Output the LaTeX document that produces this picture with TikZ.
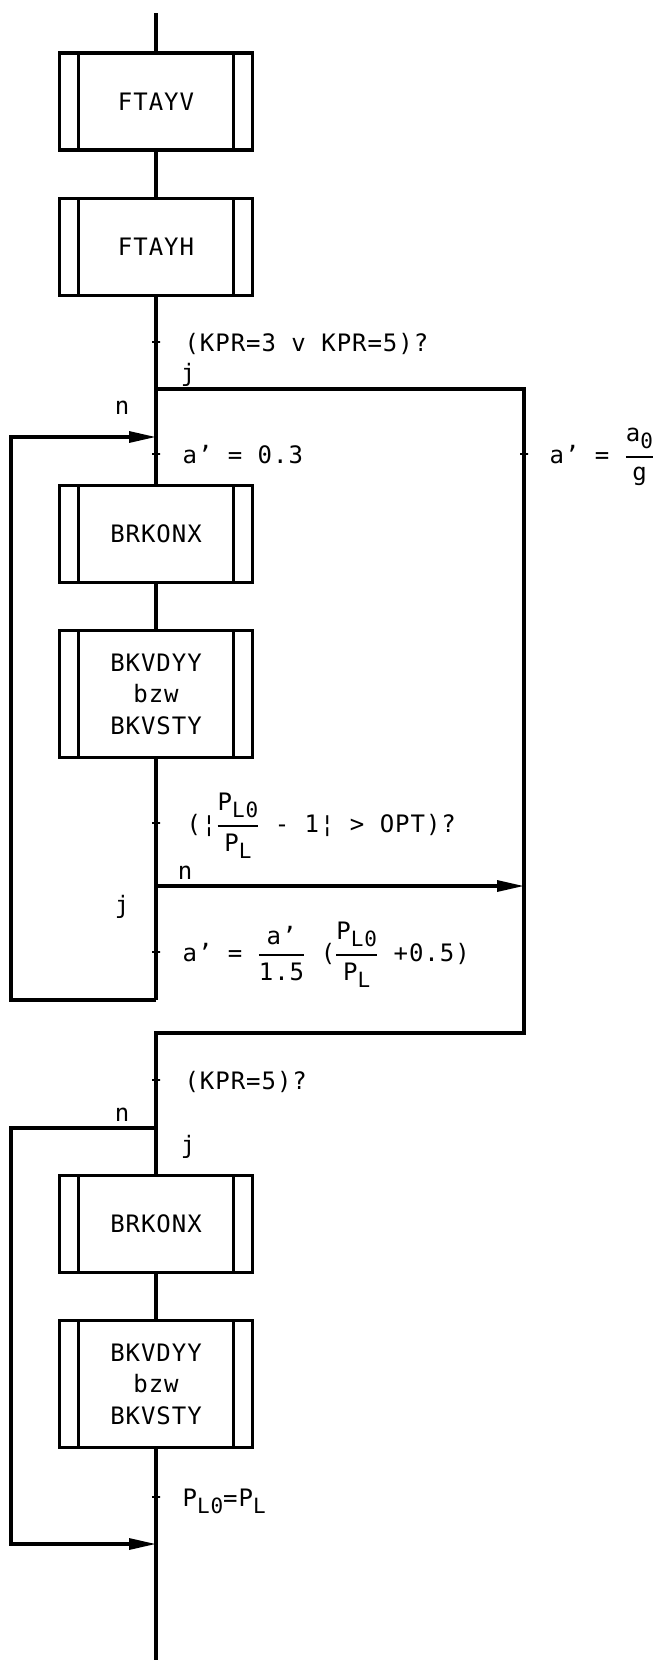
\documentclass[tikz,border=0pt]{standalone}
\usepackage{amsmath}
\usepackage{fontspec}
\usetikzlibrary{arrows.meta, positioning}
\newfontfamily\plotfont{DejaVu Sans Mono}[LetterSpace=4]
\newcommand{\lsub}[1]{\raisebox{-7pt}{\fontsize{21}{21}\selectfont #1}}
\newcommand{\pfr}[2]{$\genfrac{}{}{2.4pt}{0}{\text{#1}}{\text{#2}}$}

\begin{document}
\begin{tikzpicture}[x=1pt, y=1pt,
        line width=3.2pt,
        node distance=45pt,
        subr/.style={draw, minimum width=193pt, minimum height=97pt,
                inner sep=0pt, align=center,
                font=\plotfont\fontsize{24}{31.5}\selectfont,
                path picture={\draw
                    ([xshift=19pt]path picture bounding box.north west) --
                    ([xshift=19pt]path picture bounding box.south west)
                    ([xshift=-19pt]path picture bounding box.north east) --
                    ([xshift=-19pt]path picture bounding box.south east);}},
        tickmk/.style={draw, line width=2.4pt, minimum width=8pt,
                minimum height=0pt, inner sep=0pt, outer sep=0pt},
        lbl/.style={font=\plotfont\fontsize{24}{29}\selectfont,
                inner sep=0pt, anchor=base west},
        yn/.style={font=\plotfont\fontsize{24}{29}\selectfont, inner sep=0pt},
        arr/.style={-{Triangle[length=27pt, width=11pt]}}]
    \useasboundingbox (0,0) rectangle (661,-1660);

    % main column
    \coordinate (top) at (156,-13);
    \node[subr] (ftayv) at (156,-101.5) {FTAYV};
    \node[subr, below=of ftayv] (ftayh) {FTAYH};
    \coordinate (jsplit) at (156,-389);
    \coordinate (jright) at (524,-389);
    \coordinate (loopin) at (156,-437);
    \node[subr] (brkonx) at (156,-534) {BRKONX};
    \node[subr, minimum height=127pt, below=of brkonx] (bkvdyy)
        {BKVDYY\\bzw\\BKVSTY};
    \coordinate (nsplit1) at (156,-886);
    \coordinate (nright) at (524,-886);
    \coordinate (back1) at (156,-1000);
    \coordinate (loopl1) at (11,-437);
    \coordinate (mergeR) at (524,-1033);
    \coordinate (merge) at (156,-1033);
    \coordinate (nsplit2) at (156,-1128);
    \node[subr] (brkonx2) at (156,-1224) {BRKONX};
    \node[subr, minimum height=127pt, below=of brkonx2] (bkvdyy2)
        {BKVDYY\\bzw\\BKVSTY};
    \coordinate (loopl2) at (11,-1544);
    \coordinate (join) at (156,-1544);
    \coordinate (bottom) at (156,-1660);

    % ticks
    \node[tickmk] (tq1) at (156,-342) {};
    \node[tickmk] (ta1) at (156,-454) {};
    \node[tickmk] (ta2) at (524,-454) {};
    \node[tickmk] (tq2) at (156,-823) {};
    \node[tickmk] (ta3) at (156,-952) {};
    \node[tickmk] (tq3) at (156,-1080) {};
    \node[tickmk] (tp) at (156,-1497) {};

    % lines
    \draw (top) -- (ftayv);
    \draw (ftayv) -- (ftayh);
    \draw (ftayh) -- (brkonx);
    \draw (brkonx) -- (bkvdyy);
    \draw (bkvdyy) -- (back1);
    \draw[arr] (back1) -| (loopl1) -- (loopin);
    \draw (jsplit) -- (jright) -- (mergeR) -- (merge) -- (brkonx2);
    \draw[arr] (nsplit1) -- (nright);
    \draw (brkonx2) -- (bkvdyy2);
    \draw (bkvdyy2) -- (bottom);
    \draw[arr] (nsplit2) -| (loopl2) -- (join);

    % labels
    \node[lbl] (lq1) at ([shift={(27,-9)}]tq1.center) {(KPR=3 v KPR=5)?};
    \node[lbl] (la1) at ([shift={(25,-9)}]ta1.center) {a’ = 0.3};
    \node[lbl] (la2) at ([shift={(24,-9)}]ta2.center) {a’ = \pfr{a\lsub{0}}{g}};
    \node[lbl] (lq2) at ([shift={(29,-9)}]tq2.center)
        {(¦\pfr{P\lsub{L0}}{P\lsub{L}} - 1¦ > OPT)?};
    \node[lbl] (la3) at ([shift={(25,-9)}]ta3.center)
        {a’ = \pfr{a’}{1.5} (\pfr{P\lsub{L0}}{P\lsub{L}} +0.5)};
    \node[lbl] (lq3) at ([shift={(27,-9)}]tq3.center) {(KPR=5)?};
    \node[lbl] (lp) at ([shift={(25,-9)}]tp.center) {P\lsub{L0}=P\lsub{L}};

    \node[yn] (j1) at (188,-375) {j};
    \node[yn] (n1) at (122,-408) {n};
    \node[yn] (n2) at (185,-873) {n};
    \node[yn] (j2) at (122,-907) {j};
    \node[yn] (n3) at (122,-1115) {n};
    \node[yn] (j3) at (188,-1147) {j};
\end{tikzpicture}
\end{document}
